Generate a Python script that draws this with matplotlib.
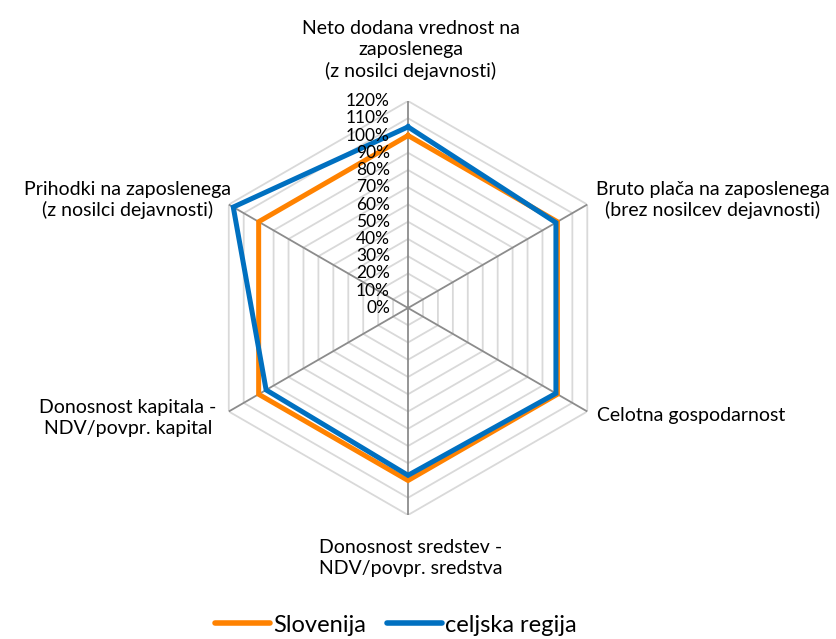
import numpy as np
import matplotlib.pyplot as plt

# podatki
kategorije = ['Neto dodana vrednost na\nzaposlenega\n(z nosilci dejavnosti)',
              'Bruto plača na zaposlenega\n(brez nosilcev dejavnosti)',
              'Celotna gospodarnost',
              'Donosnost sredstev -\nNDV/povpr. sredstva',
              'Donosnost kapitala -\nNDV/povpr. kapital',
              'Prihodki na zaposlenega\n(z nosilci dejavnosti)']
slovenija = [100, 100, 100, 100, 100, 100]
celjska = [105, 99, 99, 97, 95, 117]
ticks = list(range(0, 121, 10))

plt.rcParams['font.family'] = ['Lato', 'DejaVu Sans']

fig = plt.figure(figsize=(8.37, 6.39), dpi=100)
ax = fig.add_axes([0.4875 - 0.2473, 0.518 - 0.324, 0.4946, 0.648], projection='polar')
ax.set_theta_offset(np.pi / 2)
ax.set_theta_direction(-1)
ax.set_ylim(0, 120)
ax.grid(False)
ax.spines['polar'].set_visible(False)
ax.set_xticks([])
ax.set_yticks([])

n = len(kategorije)
kot = np.linspace(0, 2 * np.pi, n, endpoint=False)
kot_z = np.append(kot, kot[0])

# mreza - sestkotniki
for t in ticks[1:]:
    ax.plot(kot_z, [t] * (n + 1), color='#D9D9D9', lw=1.3, zorder=1)
for k in kot:
    ax.plot([k, k], [0, 120], color='#8C8C8C', lw=1.3, zorder=2)

# oznake osi
for t in ticks:
    ax.annotate(f'{t}%', (0, t), xytext=(-13, 0), textcoords='offset points',
                ha='right', va='center', fontsize=12.5, zorder=5)

ax.plot(kot_z, slovenija + slovenija[:1], color='#FF8200', lw=3.6, zorder=3,
        label='Slovenija', solid_joinstyle='miter')
ax.plot(kot_z, celjska + celjska[:1], color='#0070C0', lw=3.6, zorder=4,
        label='celjska regija', solid_joinstyle='miter')

# nazivi kategorij
W, H = 837, 639
poz = [(411, 50, 'center'), (713, 200, 'center'), (597, 415, 'left'),
       (411, 558, 'center'), (128, 418, 'center'), (128, 200, 'center')]
for lab, (x, y, ha) in zip(kategorije, poz):
    fig.text(x / W, 1 - y / H, lab, ha=ha, va='center', fontsize=14,
             linespacing=1.25)

leg = fig.legend(loc='center', bbox_to_anchor=(396 / W, 1 - 625 / H), ncol=2,
                 frameon=False, fontsize=17, handlelength=2.3,
                 handletextpad=0.15, columnspacing=0.9)
for h in leg.get_lines():
    h.set_linewidth(4)
    h.set_solid_capstyle('round')

fig.savefig('out.png', dpi=100)
